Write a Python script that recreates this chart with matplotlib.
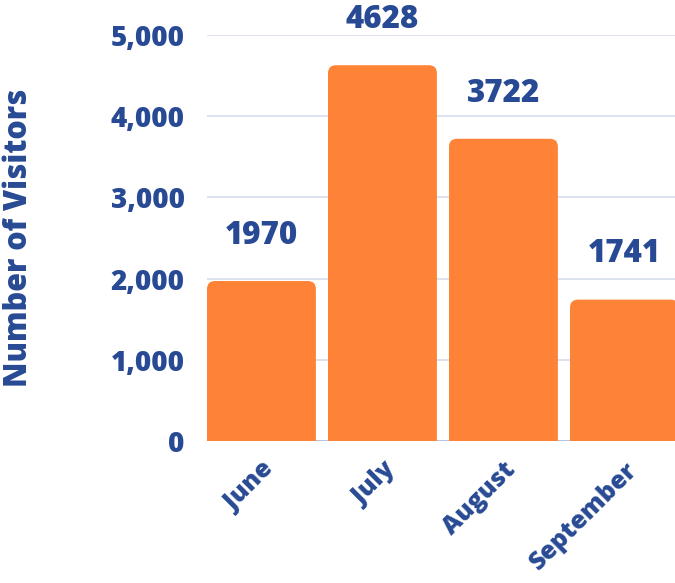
import matplotlib.pyplot as plt
from matplotlib.patches import FancyBboxPatch

# data
months = ['June', 'July', 'August', 'September']
visitors = [1970, 4628, 3722, 1741]
y_ticks = [0, 1000, 2000, 3000, 4000, 5000]

orange = '#FF8336'
navy = '#284A94'
grid_col = '#DDE2EF'

plt.rcParams['font.family'] = ['Open Sans', 'DejaVu Sans']
W = 800  # extra bold

fig = plt.figure(figsize=(6.75, 5.83), dpi=100)
ax = fig.add_axes([207 / 675, (583 - 441) / 583, 468 / 675, 406 / 583])

x = list(range(len(months)))
bars = ax.bar(x, visitors, width=0.9, color=orange, zorder=3)

# swap plain bars for ones with rounded top corners
px_x = 121.0            # pixels per x unit
px_y = 406 / 5000       # pixels per y unit
r = 8                   # corner radius, px
for b in bars:
    x0, w, h = b.get_x(), b.get_width(), b.get_height()
    b.set_visible(False)
    p = FancyBboxPatch((x0, -300), w, h + 300,
                       boxstyle=f'round,pad=0,rounding_size={r / px_x}',
                       mutation_aspect=(r / px_y) / (r / px_x),
                       fc=orange, ec='none', zorder=3)
    ax.add_patch(p)

for xi, v in zip(x, visitors):
    ax.annotate(str(v), (xi, v), xytext=(0, 21), textcoords='offset points',
                ha='center', va='bottom', fontsize=22.5, fontweight=W,
                color=navy, annotation_clip=False)

ax.set_xlim(-0.45, -0.45 + 468 / px_x)
ax.set_ylim(0, 5000)
ax.set_yticks(y_ticks)
ax.set_yticklabels([f'{t:,}' for t in y_ticks])
ax.set_xticks(x)
ax.set_xticklabels(months, rotation=45, ha='right', va='top',
                   rotation_mode='anchor')

for t in y_ticks:
    ax.axhline(t, color=grid_col if t else '#B5C2E0', lw=1.4, zorder=1)

for s in ax.spines.values():
    s.set_visible(False)
ax.tick_params(axis='both', length=0, colors=navy)
ax.tick_params(axis='y', labelsize=20, pad=16)
ax.tick_params(axis='x', labelsize=18, pad=12)
for lab in ax.get_xticklabels() + ax.get_yticklabels():
    lab.set_fontweight(W)

ax.set_ylabel('Number of Visitors', fontsize=22, fontweight=W,
              color=navy, labelpad=0)
ax.yaxis.set_label_coords(-172 / 468, 0.5)

fig.savefig('out.png', dpi=100)
